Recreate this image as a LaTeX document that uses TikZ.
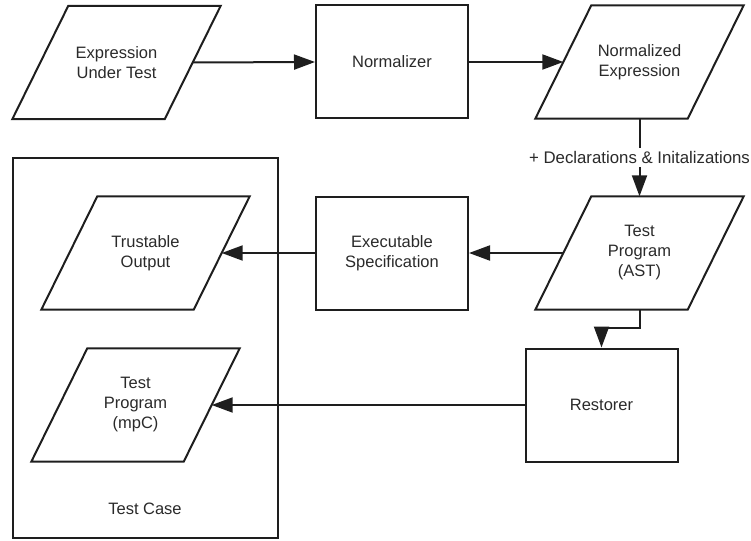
\documentclass[tikz,border=0pt]{standalone}
\usepackage{fontspec}
\setmainfont{Liberation Sans}
\usetikzlibrary{arrows.meta,calc}
\definecolor{ink}{HTML}{1E1E1E}
\definecolor{txt}{HTML}{2A2A2A}
\begin{document}
\begin{tikzpicture}[x=1pt,y=-1pt,
  every node/.style={font=\fontsize{16.5}{20}\selectfont, text=txt, align=center, inner sep=0pt},
  boxn/.style={draw=ink, line width=2pt, minimum width=152pt, minimum height=113pt},
  paran/.style={minimum width=152pt, minimum height=113pt},
  conn/.style={draw=ink, line width=2pt, -{Triangle[length=21pt,width=15pt]}},
  edge/.style={draw=ink, line width=2pt, line join=miter}]
\useasboundingbox (0,0) rectangle (751,540);
% Test case container
\node[draw=ink, line width=2pt, minimum width=265pt, minimum height=380pt] (tc) at (145.5,348) {};
\node (tclab) at (145,509) {Test Case};
% top row
\node[paran] (eut) at (116.5,62.5) {Expression\\Under Test};
\node[boxn] (norm) at (392,62) {Normalizer};
\node[paran] (ne) at (639.5,62) {Normalized\\Expression};
% middle row
\node[paran] (to) at (145.5,253) {Trustable\\Output};
\node[boxn] (exec) at (392,253) {Executable\\Specification};
\node[paran] (ast) at (639.5,253) {Test\\Program\\(AST)};
% bottom row
\node[paran] (mpc) at (135.5,405) {Test\\Program\\(mpC)};
\node[boxn] (rest) at (601.5,405) {Restorer};
% parallelogram outlines
\foreach \n in {eut,ne,to,ast,mpc}{
  \draw[edge] ([xshift=28pt]\n.north west) -- ([xshift=28pt]\n.north east)
    -- ([xshift=-28pt]\n.south east) -- ([xshift=-28pt]\n.south west) -- cycle;
}
% connectors
\draw[conn] (eut.east) -- (norm.west);
\draw[conn] (norm.east) -- (ne.west);
\draw[conn] (ne.south) -- node[fill=white, inner sep=3pt, font=\fontsize{16.8}{20}\selectfont] (declab) {+ Declarations \& Initalizations} (ast.north);
\draw[conn] (ast.west) -- (exec.east);
\draw[conn] (exec.west) -- (to.east);
\coordinate (bend) at (639.5,328);
\draw[conn] (ast.south) -- (bend) -| (rest.north);
\draw[conn] (rest.west) -- (mpc.east);
\end{tikzpicture}
\end{document}
